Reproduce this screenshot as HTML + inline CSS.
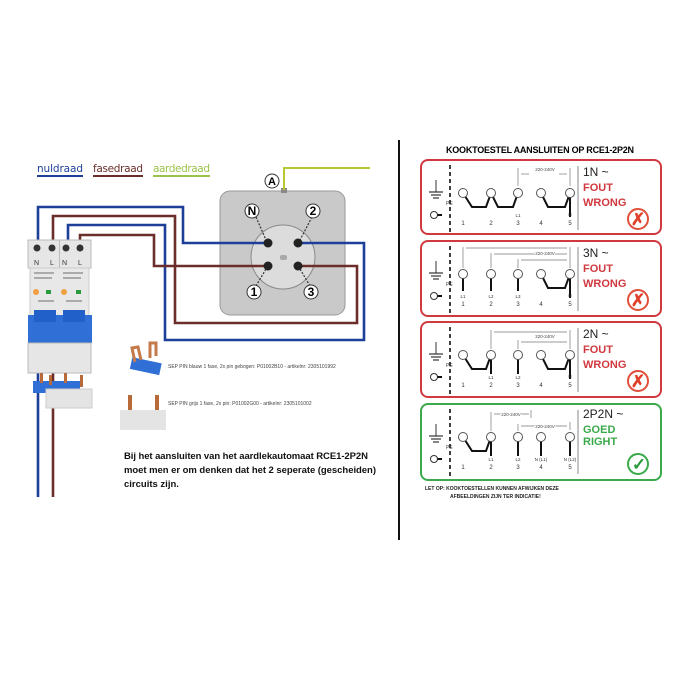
<!DOCTYPE html>
<html><head><meta charset="utf-8"><style>
html,body{margin:0;padding:0;background:#fff;}
svg{display:block;font-family:"Liberation Sans",sans-serif;}
</style></head><body>
<svg width="685" height="685" viewBox="0 0 685 685" xmlns="http://www.w3.org/2000/svg">
<defs>
<g id="gnd">
 <line x1="15" y1="20" x2="15" y2="32" stroke="#333" stroke-width="1"/>
 <line x1="8" y1="32" x2="22" y2="32" stroke="#333" stroke-width="1.2"/>
 <line x1="10" y1="35" x2="20" y2="35" stroke="#333" stroke-width="1.2"/>
 <line x1="12" y1="38" x2="18" y2="38" stroke="#333" stroke-width="1.2"/>
 <text x="25" y="45" font-size="5" fill="#333">PE</text>
 <circle cx="13" cy="55" r="3.5" fill="#fff" stroke="#333" stroke-width="1"/>
 <line x1="16.5" y1="55" x2="21" y2="55" stroke="#111" stroke-width="2"/>
 <line x1="29" y1="5" x2="29" y2="72" stroke="#111" stroke-width="1.6" stroke-dasharray="4,3"/>
 <line x1="157" y1="6" x2="157" y2="70" stroke="#888" stroke-width="1"/>
 <g font-size="6" fill="#333" text-anchor="middle"><text x="42" y="65">1</text><text x="70" y="65">2</text><text x="97" y="65">3</text><text x="120" y="65">4</text><text x="149" y="65">5</text></g>
</g>
</defs>

<!-- legend -->
<text x="37" y="172" font-size="10.5" fill="#1d3f9a" font-family="DejaVu Sans,sans-serif" textLength="46">nuldraad</text>
<line x1="37" y1="176" x2="83" y2="176" stroke="#1d3f9a" stroke-width="2"/>
<text x="93" y="172" font-size="10.5" fill="#6b2e2a" font-family="DejaVu Sans,sans-serif" textLength="50">fasedraad</text>
<line x1="93" y1="176" x2="143" y2="176" stroke="#6b2e2a" stroke-width="2"/>
<text x="153" y="172" font-size="10.5" fill="#9bc24a" font-family="DejaVu Sans,sans-serif" textLength="57">aardedraad</text>
<line x1="153" y1="176" x2="210" y2="176" stroke="#9bc24a" stroke-width="2"/>

<!-- socket plate -->
<rect x="220" y="191" width="125" height="124" rx="10" fill="#c9c9c9" stroke="#999"/>
<circle cx="283" cy="257" r="32" fill="#dcdcdc" stroke="#888"/>
<rect x="280" y="255" width="7" height="5" rx="2" fill="#aaa"/>
<rect x="281" y="188" width="6" height="5" fill="#888"/>
<polyline points="284,190 284,168 370,168" fill="none" stroke="#b8c832" stroke-width="2"/>
<circle cx="272" cy="181" r="7" fill="#fff" stroke="#333"/><text x="272" y="185" font-size="11" font-weight="bold" text-anchor="middle">A</text>

<!-- wires -->
<g fill="none" stroke-width="2.6">
<polyline points="38,497 38,207 183,207 183,243 268,243" stroke="#1d3f9a"/>
<polyline points="53,497 53,216 175,216 175,323 357,323 357,266 298,266" stroke="#6b2e2a"/>
<polyline points="68,245 68,225 165,225 165,340 364,340 364,243 300,243" stroke="#1d3f9a"/>
<polyline points="80,245 80,235 154,235 154,266 268,266" stroke="#6b2e2a"/>
</g>
<g fill="#222"><circle cx="268" cy="243" r="4.5"/><circle cx="298" cy="243" r="4.5"/><circle cx="268" cy="266" r="4.5"/><circle cx="298" cy="266" r="4.5"/></g>
<g stroke="#333" stroke-dasharray="2,1.5" stroke-width="1.2"><line x1="256" y1="217" x2="266" y2="240"/><line x1="312" y1="217" x2="300" y2="240"/><line x1="256" y1="286" x2="266" y2="269"/><line x1="310" y1="286" x2="300" y2="269"/></g>
<g font-size="12" font-weight="bold" text-anchor="middle">
<circle cx="252" cy="211" r="7" fill="#fff" stroke="#333"/><text x="252" y="215">N</text>
<circle cx="313" cy="211" r="7" fill="#fff" stroke="#333"/><text x="313" y="215">2</text>
<circle cx="254" cy="292" r="7" fill="#fff" stroke="#333"/><text x="254" y="296">1</text>
<circle cx="311" cy="292" r="7" fill="#fff" stroke="#333"/><text x="311" y="296">3</text>
</g>

<!-- breaker -->
<rect x="28" y="240" width="63" height="28" fill="#e6e6e6" stroke="#bbb"/>
<line x1="59.5" y1="240" x2="59.5" y2="373" stroke="#bbb"/>
<g fill="#333"><circle cx="37" cy="248" r="3.5"/><circle cx="52" cy="248" r="3.5"/><circle cx="66" cy="248" r="3.5"/><circle cx="80" cy="248" r="3.5"/>
<circle cx="37" cy="358" r="3.5"/><circle cx="52" cy="358" r="3.5"/><circle cx="66" cy="358" r="3.5"/><circle cx="80" cy="358" r="3.5"/></g>
<g font-size="7" fill="#333"><text x="34" y="265">N</text><text x="50" y="265">L</text><text x="62" y="265">N</text><text x="78" y="265">L</text>
<text x="34" y="350">N</text><text x="50" y="350">L</text><text x="62" y="350">N</text><text x="78" y="350">L</text></g>
<rect x="30" y="268" width="59" height="50" fill="#e8e8e8" stroke="#ccc"/>
<g fill="#aaa"><rect x="34" y="272" width="20" height="2"/><rect x="34" y="277" width="18" height="2"/><rect x="63" y="272" width="20" height="2"/><rect x="63" y="277" width="18" height="2"/><rect x="38" y="300" width="16" height="2"/><rect x="66" y="300" width="16" height="2"/></g>
<circle cx="36" cy="292" r="3" fill="#f0a040"/><circle cx="64" cy="292" r="3" fill="#f0a040"/>
<rect x="46" y="290" width="5" height="4" fill="#2a9a3a"/><rect x="76" y="290" width="5" height="4" fill="#2a9a3a"/>
<rect x="28" y="315" width="64" height="28" fill="#2f6fd6"/>
<rect x="34" y="310" width="22" height="12" fill="#2060c8"/><rect x="63" y="310" width="22" height="12" fill="#2060c8"/>
<rect x="28" y="343" width="63" height="30" fill="#e6e6e6" stroke="#bbb"/>
<rect x="33" y="381" width="47" height="12" fill="#2f6fd6"/>
<g fill="#b86a3a"><rect x="40" y="373" width="3" height="10"/><rect x="49" y="375" width="3" height="10"/><rect x="64" y="373" width="3" height="10"/><rect x="80" y="375" width="3" height="12"/></g>
<rect x="46" y="389" width="46" height="19" fill="#e4e4e4" stroke="#ccc"/>

<!-- pins -->
<g transform="rotate(12 145 365)"><rect x="131" y="360" width="30" height="12" fill="#2f6fd6"/></g>
<path d="M135 362 L132 348 L138 347 L141 360 M150 358 L150 343 L156 343 L156 356" fill="none" stroke="#c47a4a" stroke-width="3"/>
<rect x="128" y="395" width="4" height="16" fill="#b86a3a"/><rect x="155" y="395" width="4" height="16" fill="#b86a3a"/>
<rect x="120" y="410" width="46" height="20" fill="#e4e4e4"/>
<text x="168" y="368" font-size="5" fill="#444">SEP PIN blauw 1 fase, 2x pin gebogen: P01002B10 - artikelnr: 2305101992</text>
<text x="168" y="405" font-size="5" fill="#444">SEP PIN grijs 1 fase, 2x pin:  P01002G00 - artikelnr: 2305101002</text>
<g font-size="9.5" font-weight="bold" fill="#111"><text x="124" y="459" textLength="244">Bij het aansluiten van het aardlekautomaat RCE1-2P2N</text><text x="124" y="473" textLength="252">moet men er om denken dat het 2 seperate (gescheiden)</text><text x="124" y="487">circuits zijn.</text></g>

<!-- divider -->
<line x1="399" y1="140" x2="399" y2="540" stroke="#111" stroke-width="2"/>

<text x="446" y="153" font-size="9" font-weight="bold" textLength="188">KOOKTOESTEL AANSLUITEN OP RCE1-2P2N</text>

<!-- panel 1 -->
<g transform="translate(421,160)">
<rect x="0" y="0" width="240" height="74" rx="7" fill="#fff" stroke="#d0393f" stroke-width="2"/>
<use href="#gnd"/>
<path d="M42 33 L51 47 L65 47 L70 33 L77 47 L92 47 L97 33 M120 33 L127 47 L144 47 L149 33 L149 57" fill="none" stroke="#111" stroke-width="2"/>
<g fill="#fff" stroke="#555"><circle cx="42" cy="33" r="4.5"/><circle cx="70" cy="33" r="4.5"/><circle cx="97" cy="33" r="4.5"/><circle cx="120" cy="33" r="4.5"/><circle cx="149" cy="33" r="4.5"/></g>
<g stroke="#777" stroke-width="0.7" fill="none"><line x1="97" y1="8" x2="97" y2="26"/><line x1="149" y1="8" x2="149" y2="26"/><line x1="100" y1="14" x2="108" y2="14"/><line x1="138" y1="14" x2="146" y2="14"/></g>
<text x="124" y="11" font-size="4.5" fill="#444" text-anchor="middle">220-240V</text>
<text x="97" y="57" font-size="4.5" text-anchor="middle" fill="#333">L1</text><text x="149" y="56" font-size="4.5" text-anchor="middle" fill="#333">N</text>
<text x="162" y="16" font-size="12" fill="#222">1N ~</text>
<text x="162" y="31" font-size="11" font-weight="bold" fill="#d0393f">FOUT</text>
<text x="162" y="46" font-size="11" font-weight="bold" fill="#d0393f">WRONG</text>
<circle cx="217" cy="59" r="10" fill="#fff" stroke="#e0503a" stroke-width="2"/><text x="217" y="65" font-size="17" font-weight="bold" fill="#e0402a" text-anchor="middle">✗</text>
</g>

<!-- panel 2 -->
<g transform="translate(421,241)">
<rect x="0" y="0" width="240" height="75" rx="7" fill="#fff" stroke="#d0393f" stroke-width="2"/>
<use href="#gnd"/>
<path d="M42 33 L42 50 M70 33 L70 50 M97 33 L97 50 M120 33 L127 47 L144 47 L149 33 L149 57" fill="none" stroke="#111" stroke-width="2"/>
<g fill="#fff" stroke="#555"><circle cx="42" cy="33" r="4.5"/><circle cx="70" cy="33" r="4.5"/><circle cx="97" cy="33" r="4.5"/><circle cx="120" cy="33" r="4.5"/><circle cx="149" cy="33" r="4.5"/></g>
<g stroke="#777" stroke-width="0.7" fill="none"><line x1="42" y1="6" x2="42" y2="27"/><line x1="70" y1="12" x2="70" y2="27"/><line x1="97" y1="18" x2="97" y2="27"/><line x1="149" y1="6" x2="149" y2="27"/><line x1="45" y1="7" x2="146" y2="7"/><line x1="73" y1="13" x2="146" y2="13"/><line x1="100" y1="19" x2="146" y2="19"/></g>
<text x="124" y="14" font-size="4.5" fill="#444" text-anchor="middle" stroke="#fff" stroke-width="2" paint-order="stroke">220-240V</text>
<g font-size="4.5" text-anchor="middle" fill="#333"><text x="42" y="57">L1</text><text x="70" y="57">L2</text><text x="97" y="57">L3</text><text x="149" y="56">N</text></g>
<text x="162" y="16" font-size="12" fill="#222">3N ~</text>
<text x="162" y="31" font-size="11" font-weight="bold" fill="#d0393f">FOUT</text>
<text x="162" y="46" font-size="11" font-weight="bold" fill="#d0393f">WRONG</text>
<circle cx="217" cy="59" r="10" fill="#fff" stroke="#e0503a" stroke-width="2"/><text x="217" y="65" font-size="17" font-weight="bold" fill="#e0402a" text-anchor="middle">✗</text>
</g>

<!-- panel 3 -->
<g transform="translate(421,322)">
<rect x="0" y="0" width="240" height="75" rx="7" fill="#fff" stroke="#d0393f" stroke-width="2"/>
<use href="#gnd"/>
<path d="M42 33 L51 47 L65 47 L70 33 L70 52 M97 33 L97 52 M120 33 L127 47 L144 47 L149 33 L149 57" fill="none" stroke="#111" stroke-width="2"/>
<g fill="#fff" stroke="#555"><circle cx="42" cy="33" r="4.5"/><circle cx="70" cy="33" r="4.5"/><circle cx="97" cy="33" r="4.5"/><circle cx="120" cy="33" r="4.5"/><circle cx="149" cy="33" r="4.5"/></g>
<g stroke="#777" stroke-width="0.7" fill="none"><line x1="70" y1="8" x2="70" y2="27"/><line x1="97" y1="18" x2="97" y2="27"/><line x1="149" y1="8" x2="149" y2="27"/><line x1="73" y1="10" x2="146" y2="10"/><line x1="100" y1="20" x2="146" y2="20"/></g>
<text x="124" y="16" font-size="4.5" fill="#444" text-anchor="middle" stroke="#fff" stroke-width="2" paint-order="stroke">220-240V</text>
<g font-size="4.5" text-anchor="middle" fill="#333"><text x="70" y="57">L1</text><text x="97" y="57">L2</text><text x="149" y="56">N</text></g>
<text x="162" y="16" font-size="12" fill="#222">2N ~</text>
<text x="162" y="31" font-size="11" font-weight="bold" fill="#d0393f">FOUT</text>
<text x="162" y="46" font-size="11" font-weight="bold" fill="#d0393f">WRONG</text>
<circle cx="217" cy="59" r="10" fill="#fff" stroke="#e0503a" stroke-width="2"/><text x="217" y="65" font-size="17" font-weight="bold" fill="#e0402a" text-anchor="middle">✗</text>
</g>

<!-- panel 4 -->
<g transform="translate(421,404)">
<rect x="0" y="0" width="240" height="76" rx="7" fill="#fff" stroke="#3aaa4a" stroke-width="2"/>
<use href="#gnd"/>
<path d="M42 33 L51 47 L65 47 L70 33 L70 52 M97 33 L97 52 M120 33 L120 52 M149 33 L149 52" fill="none" stroke="#111" stroke-width="2"/>
<g fill="#fff" stroke="#555"><circle cx="42" cy="33" r="4.5"/><circle cx="70" cy="33" r="4.5"/><circle cx="97" cy="33" r="4.5"/><circle cx="120" cy="33" r="4.5"/><circle cx="149" cy="33" r="4.5"/></g>
<g stroke="#777" stroke-width="0.7" fill="none"><line x1="70" y1="8" x2="70" y2="27"/><line x1="97" y1="20" x2="97" y2="27"/><line x1="110" y1="6" x2="110" y2="14"/><line x1="149" y1="18" x2="149" y2="26"/><line x1="73" y1="10" x2="108" y2="10"/><line x1="100" y1="22" x2="146" y2="22"/></g>
<text x="90" y="12" font-size="4.5" fill="#444" text-anchor="middle" stroke="#fff" stroke-width="2" paint-order="stroke">220-240V</text>
<text x="124" y="24" font-size="4.5" fill="#444" text-anchor="middle" stroke="#fff" stroke-width="2" paint-order="stroke">220-240V</text>
<g font-size="4.5" text-anchor="middle" fill="#333"><text x="70" y="57">L1</text><text x="97" y="57">L2</text><text x="120" y="57">N (L1)</text><text x="149" y="57">N (L2)</text></g>
<text x="162" y="14" font-size="12" fill="#222">2P2N ~</text>
<text x="162" y="29" font-size="11" font-weight="bold" fill="#3aaa4a">GOED</text>
<text x="162" y="41" font-size="11" font-weight="bold" fill="#3aaa4a">RIGHT</text>
<circle cx="217" cy="60" r="10" fill="#fff" stroke="#3aaa4a" stroke-width="2"/><text x="218" y="66" font-size="17" font-weight="bold" fill="#2a9a3a" text-anchor="middle">✓</text>
</g>

<g font-size="5" font-weight="bold" fill="#222"><text x="425" y="490">LET OP:  KOOKTOESTELLEN KUNNEN AFWIJKEN DEZE</text><text x="450" y="498">AFBEELDINGEN ZIJN TER INDICATIE!</text></g>
</svg>
</body></html>
